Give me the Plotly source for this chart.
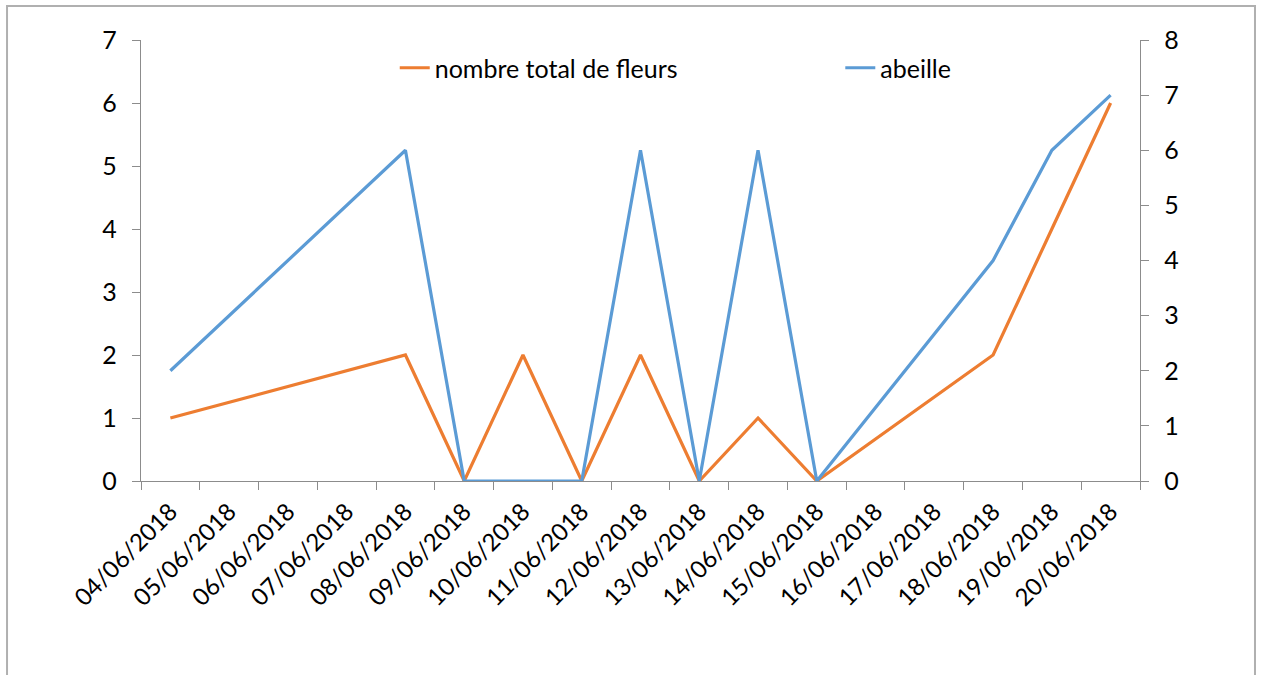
import plotly.graph_objects as go

categories = ["04/06/2018", "05/06/2018", "06/06/2018", "07/06/2018", "08/06/2018",
              "09/06/2018", "10/06/2018", "11/06/2018", "12/06/2018", "13/06/2018",
              "14/06/2018", "15/06/2018", "16/06/2018", "17/06/2018", "18/06/2018",
              "19/06/2018", "20/06/2018"]

fleurs_dates = ["04/06/2018", "08/06/2018", "09/06/2018", "10/06/2018", "11/06/2018",
                "12/06/2018", "13/06/2018", "14/06/2018", "15/06/2018", "18/06/2018",
                "19/06/2018", "20/06/2018"]
fleurs_values = [1, 2, 0, 2, 0, 2, 0, 1, 0, 2, 4, 6]

abeille_dates = ["04/06/2018", "08/06/2018", "09/06/2018", "10/06/2018", "11/06/2018",
                 "12/06/2018", "13/06/2018", "14/06/2018", "15/06/2018", "18/06/2018",
                 "19/06/2018", "20/06/2018"]
abeille_values = [2, 6, 0, 0, 0, 6, 0, 6, 0, 4, 6, 7]

left_ticks = [0, 1, 2, 3, 4, 5, 6, 7]
right_ticks = [0, 1, 2, 3, 4, 5, 6, 7, 8]

FONT = "Lato"
FSIZE = 25
AXIS_COL = "#8c8c8c"

fig = go.Figure()
fig.add_trace(go.Scatter(x=fleurs_dates, y=fleurs_values, mode="lines",
                         name="nombre total de fleurs",
                         line=dict(color="#ED7D31", width=3.2), cliponaxis=False,
                         yaxis="y", legend="legend"))
fig.add_trace(go.Scatter(x=abeille_dates, y=abeille_values, mode="lines",
                         name="abeille",
                         line=dict(color="#5B9BD5", width=3.2), cliponaxis=False,
                         yaxis="y2", legend="legend2"))

legend_common = dict(orientation="h", xanchor="left", yanchor="middle",
                     font=dict(family=FONT, size=FSIZE, color="black"),
                     bgcolor="rgba(0,0,0,0)")

fig.update_layout(
    width=1262, height=675,
    margin=dict(l=141, r=122, t=40, b=194),
    paper_bgcolor="white", plot_bgcolor="white",
    font=dict(family=FONT, size=FSIZE, color="black"),
    showlegend=True,
    legend=dict(x=0.254, y=0.9365, **legend_common),
    legend2=dict(x=0.700, y=0.9365, **legend_common),
    xaxis=dict(type="category", categoryorder="array", categoryarray=categories,
               tickvals=categories, range=[-0.5, len(categories) - 0.5],
               tickson="boundaries", ticks="outside", ticklen=8, tickcolor=AXIS_COL,
               tickwidth=1.3,
               showline=True, linecolor=AXIS_COL, linewidth=1.3, showgrid=False,
               zeroline=False, tickangle=-45, layer="below traces",
               ticklabelstandoff=6,
               tickfont=dict(family=FONT, size=24)),
    yaxis=dict(range=[0, 7], tickvals=left_ticks, ticks="outside", ticklen=8,
               tickcolor=AXIS_COL, tickwidth=1.3, showline=True, linecolor=AXIS_COL,
               linewidth=1.3, showgrid=False, zeroline=False, ticklabelstandoff=10,
               layer="below traces", tickfont=dict(family=FONT, size=FSIZE)),
    yaxis2=dict(range=[0, 8], tickvals=right_ticks, overlaying="y", side="right",
                ticks="outside", ticklen=8, tickcolor=AXIS_COL, tickwidth=1.3,
                showline=True, linecolor=AXIS_COL, linewidth=1.3, showgrid=False,
                zeroline=False, ticklabelstandoff=10, layer="below traces",
                tickfont=dict(family=FONT, size=FSIZE)),
    shapes=[dict(type="rect", xref="paper", yref="paper",
                 x0=-0.1341, x1=1.1151, y0=-0.46, y1=1.0771,
                 line=dict(color="#b0b0b0", width=2), layer="below")],
)

fig.write_html("out.html", config={"displayModeBar": False},
               post_script="document.body.style.margin='0';")
